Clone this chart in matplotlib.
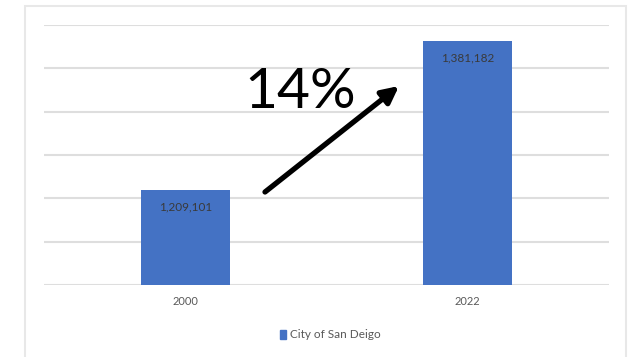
import matplotlib.pyplot as plt
from matplotlib.patches import Rectangle

years = ['2000', '2022']
population = [1209101, 1381182]
series_name = 'City of San Deigo'
growth_label = '14%'

bar_color = '#4472C4'
grid_color = '#DEDEDE'

plt.rcParams['font.family'] = ['Lato', 'DejaVu Sans']

fig = plt.figure(figsize=(6.33, 3.57), dpi=100)
W, H = 633, 357

# light chart frame like the office chart area
fig.patches.append(Rectangle((25 / W, -0.05), (626 - 25) / W, 1.05 - 6 / H,
                             transform=fig.transFigure, fill=False,
                             edgecolor='#E8E8E8', linewidth=1.5))

ax = fig.add_axes([44 / W, 1 - 285 / H, (609 - 44) / W, (285 - 25) / H])
x = range(len(years))
bars = ax.bar(x, population, width=0.315, color=bar_color, zorder=3)
ax.set_xlim(-0.5, 1.5)
ax.set_ylim(1100000, 1400000)
ax.set_yticks(range(1100000, 1400001, 50000))
ax.yaxis.grid(True, color=grid_color, linewidth=1.5, zorder=0)
ax.set_yticklabels([])
ax.set_xticks(list(x))
ax.set_xticklabels(years, color='#595959', fontsize=8)
ax.tick_params(length=0, pad=8)
ax.tick_params(axis='y', length=0)
for s in ax.spines.values():
    s.set_visible(False)

for b, v in zip(bars, population):
    ax.annotate(f'{v:,}', (b.get_x() + b.get_width() / 2, v),
                xytext=(0, -12), textcoords='offset points',
                ha='center', va='center', fontsize=8.5, color='#3A3A3A')

# growth arrow and label
fig.text(300 / W, 1 - 93 / H, growth_label, fontsize=41, ha='center', va='center',
         color='black')
ax.annotate('', xy=(399 / W, 1 - 86 / H), xytext=(265 / W, 1 - 192 / H),
            xycoords='figure fraction', textcoords='figure fraction',
            arrowprops=dict(arrowstyle='-|>,head_length=1.0,head_width=0.5',
                            color='black', linewidth=3.8, shrinkA=0, shrinkB=0))

fig.legend([Rectangle((0, 0), 1, 1, color=bar_color)], [series_name],
           loc='center', bbox_to_anchor=(330 / W, 1 - 335 / H), frameon=False,
           fontsize=8.5, handlelength=0.55, handleheight=0.8, handletextpad=0.3,
           labelcolor='#595959')

fig.savefig('out.png', dpi=100)
